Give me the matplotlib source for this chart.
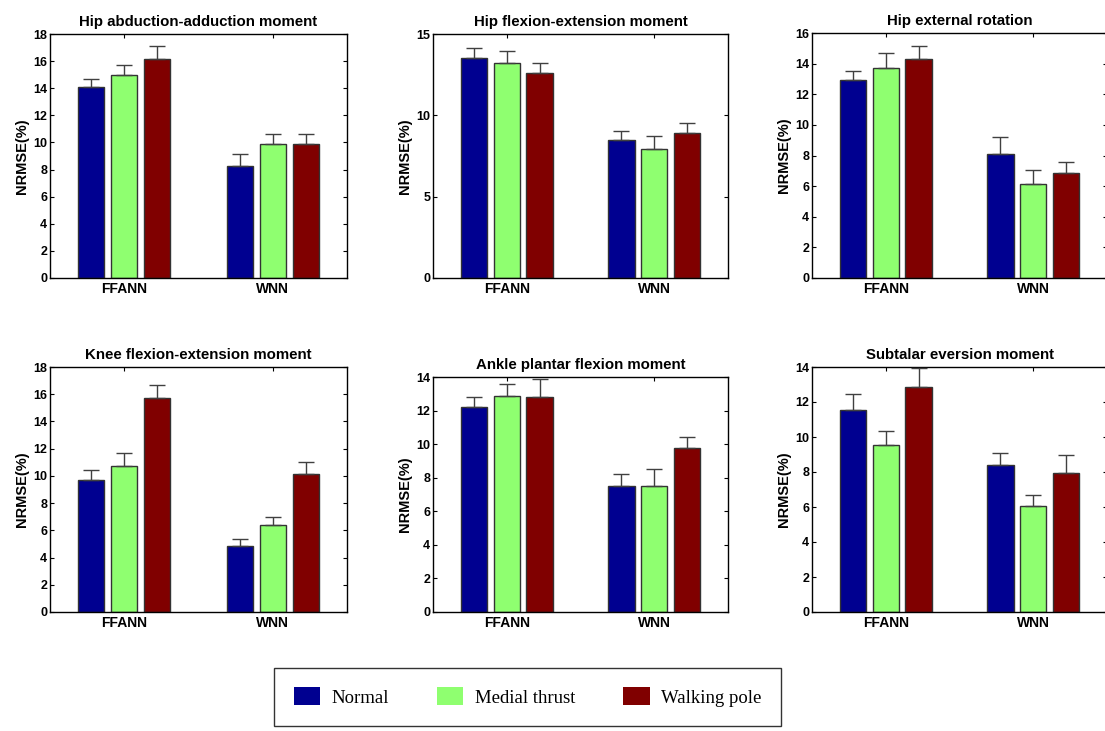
import numpy as np
import matplotlib
matplotlib.use('Agg')
import matplotlib.pyplot as plt
from matplotlib.patches import Patch

# Datos (NRMSE %), orden de paneles: fila superior y luego inferior
titulos = ['Hip abduction-adduction moment', 'Hip flexion-extension moment', 'Hip external rotation',
           'Knee flexion-extension moment', 'Ankle plantar flexion moment', 'Subtalar eversion moment']
grupos = ['FFANN', 'WNN']
series = ['Normal', 'Medial thrust', 'Walking pole']

# valores medios [FFANN, WNN] por panel
normal = [[14.12, 8.23], [13.55, 8.51], [12.93, 8.10], [9.70, 4.82], [12.19, 7.53], [11.56, 8.40]]
medial = [[15.00, 9.87], [13.24, 7.94], [13.71, 6.14], [10.73, 6.39], [12.87, 7.51], [9.56, 6.08]]
walking = [[16.16, 9.85], [12.58, 8.92], [14.28, 6.88], [15.72, 10.11], [12.83, 9.75], [12.84, 7.94]]

# desviaciones (solo hacia arriba)
normal_err = [[0.54, 0.93], [0.59, 0.53], [0.61, 1.09], [0.73, 0.52], [0.62, 0.71], [0.90, 0.67]]
medial_err = [[0.74, 0.76], [0.72, 0.76], [0.98, 0.89], [0.95, 0.61], [0.71, 1.03], [0.80, 0.62]]
walking_err = [[0.93, 0.78], [0.66, 0.59], [0.87, 0.67], [0.98, 0.91], [1.03, 0.65], [1.10, 1.05]]

y_max = [18, 15, 16, 18, 14, 14]
y_paso = [2, 5, 2, 2, 2, 2]

colores = ['#000090', '#8FFF70', '#800000']

W, H = 1105, 731
fig = plt.figure(figsize=(W / 100, H / 100), dpi=100)

# posiciones de los ejes en pixeles (izq, arriba, der, abajo)
cajas = [(50, 34, 347, 278), (433, 34, 728, 278), (812, 33, 1107, 278),
         (50, 367, 347, 612), (433, 377, 728, 612), (812, 367, 1107, 612)]

x = np.arange(1, len(grupos) + 1)
paso = 0.667 / 3
ancho = 0.8 * paso

for i in range(6):
    l, t, r, b = cajas[i]
    ax = fig.add_axes([l / W, (H - b) / H, (r - l) / W, (b - t) / H])
    datos = [normal[i], medial[i], walking[i]]
    errores = [normal_err[i], medial_err[i], walking_err[i]]
    for j in range(3):
        pos = x + (j - 1) * paso
        ax.bar(pos, datos[j], width=ancho, color=colores[j], edgecolor='#333333', linewidth=1.0, zorder=2)
        ax.errorbar(pos, datos[j], yerr=[np.zeros(len(grupos)), errores[j]], fmt='none',
                    ecolor='#404040', elinewidth=1.0, capsize=6, capthick=1.0, zorder=3)
    ax.set_xlim(0.5, 2.5)
    ax.set_ylim(0, y_max[i])
    ax.set_yticks(np.arange(0, y_max[i] + 0.1, y_paso[i]))
    ax.set_xticks(x)
    ax.set_xticklabels(grupos, fontsize=10, fontweight='bold', family='Liberation Sans')
    for lab in ax.get_yticklabels():
        lab.set_fontsize(9)
        lab.set_fontweight('bold')
        lab.set_family('Liberation Sans')
    ax.tick_params(direction='in', length=3, width=0.8, top=True, right=True, pad=2)
    ax.tick_params(axis='x', pad=3)
    ax.set_ylabel('NRMSE(%)', fontsize=10.5, fontweight='bold', family='Liberation Sans', labelpad=3)
    ax.set_title(titulos[i], fontsize=10.8, fontweight='bold', family='Liberation Sans', pad=6)
    for s in ax.spines.values():
        s.set_linewidth(1.0)

# Leyenda comun
manijas = [Patch(facecolor=c, edgecolor='none') for c in colores]
leg = fig.legend(manijas, series, ncol=3, loc='center',
                 bbox_to_anchor=(274 / W, (H - 728) / H, 507 / W, 62 / H), mode='expand',
                 prop={'family': 'Liberation Serif', 'size': 13.5},
                 handlelength=1.4, handleheight=1.1, handletextpad=0.6,
                 borderpad=1.05, borderaxespad=0, fancybox=False, edgecolor='black')
leg.get_frame().set_linewidth(1.0)

plt.savefig('out.png', dpi=100)
